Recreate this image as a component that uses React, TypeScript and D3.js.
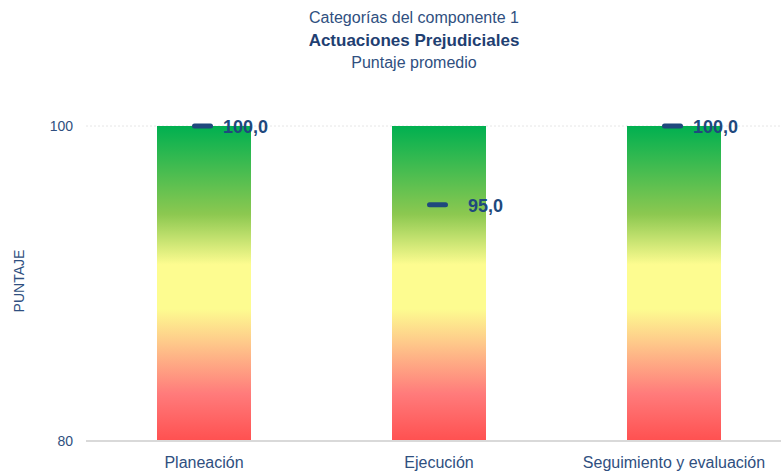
import React from "react";
import * as d3 from "d3";

const categories = ["Planeación", "Ejecución", "Seguimiento y evaluación"];
const scores = [100, 95, 100];
const yTicks = [80, 100];
const titleLines = ["Categorías del componente 1", "Actuaciones Prejudiciales", "Puntaje promedio"];
const yAxisTitle = "PUNTAJE";

const gradientStops = [
  { offset: "0%", color: "#00b050" },
  { offset: "28%", color: "#8cc850" },
  { offset: "44%", color: "#fdfc90" },
  { offset: "58%", color: "#fdfc90" },
  { offset: "69%", color: "#fec88a" },
  { offset: "85%", color: "#ff7b7b" },
  { offset: "100%", color: "#ff5050" },
];

export default function App() {
  const W = 781;
  const H = 475;
  const x = d3
    .scaleBand<string>()
    .domain(categories)
    .range([86.5, 791.5])
    .paddingInner(0.6)
    .paddingOuter(0.3);
  const y = d3.scaleLinear().domain([80, 100]).range([441, 126]);
  const font = "Arial, 'Liberation Sans', sans-serif";
  const dark = "#1f3f72";
  const mid = "#2f4f80";

  return (
    <svg
      width={W}
      height={H}
      style={{ position: "absolute", left: 0, top: 0, background: "#fff" }}
      fontFamily={font}
    >
      <defs>
        <linearGradient id="barGrad" x1="0" y1="0" x2="0" y2="1">
          {gradientStops.map((s) => (
            <stop key={s.offset} offset={s.offset} stopColor={s.color} />
          ))}
        </linearGradient>
      </defs>
      <text x={414} y={23} textAnchor="middle" fontSize={16} fill={mid}>
        {titleLines[0]}
      </text>
      <text x={414} y={46} textAnchor="middle" fontSize={17} fontWeight="bold" fill={dark}>
        {titleLines[1]}
      </text>
      <text x={414} y={68} textAnchor="middle" fontSize={16} fill={mid}>
        {titleLines[2]}
      </text>

      <text
        transform={`translate(24,281) rotate(-90)`}
        textAnchor="middle"
        fontSize={14}
        fill={mid}
      >
        {yAxisTitle}
      </text>

      <line x1={86} x2={781} y1={y(100)} y2={y(100)} stroke="#e6e6e6" strokeWidth={1} strokeDasharray="2,2" />

      {categories.map((c) => (
        <rect
          key={c}
          x={x(c)}
          y={y(100)}
          width={x.bandwidth()}
          height={y(80) - y(100)}
          fill="url(#barGrad)"
        />
      ))}

      <line x1={86} x2={781} y1={y(80)} y2={y(80)} stroke="#d9d9d9" strokeWidth={2} />

      {yTicks.map((t) => (
        <text key={t} x={73} y={y(t)} dy="0.35em" textAnchor="end" fontSize={14} fill={mid}>
          {t}
        </text>
      ))}

      {categories.map((c) => (
        <text
          key={c}
          x={(x(c) as number) + x.bandwidth() / 2}
          y={468}
          textAnchor="middle"
          fontSize={16}
          fill={mid}
        >
          {c}
        </text>
      ))}

      {categories.map((c, i) => {
        const cx = (x(c) as number) + x.bandwidth() / 2 - 1.5;
        const cy = y(scores[i]);
        return (
          <g key={c}>
            <line
              x1={cx - 8}
              x2={cx + 8}
              y1={cy}
              y2={cy}
              stroke="#1f497d"
              strokeWidth={5}
              strokeLinecap="round"
            />
            <text
              x={cx + 65.5}
              y={cy}
              dy="0.38em"
              textAnchor="end"
              fontSize={18}
              fontWeight="bold"
              fill="#1f497d"
            >
              {d3.format(".1f")(scores[i]).replace(".", ",")}
            </text>
          </g>
        );
      })}
    </svg>
  );
}
